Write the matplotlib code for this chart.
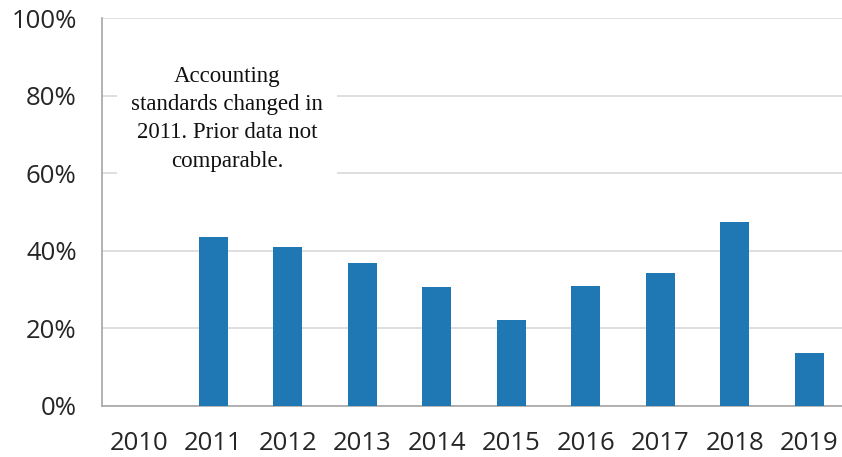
import matplotlib.pyplot as plt
from matplotlib.ticker import FuncFormatter

# data (share, %)
years = ["2010", "2011", "2012", "2013", "2014", "2015", "2016", "2017", "2018", "2019"]
values = [0.0, 43.5, 41.1, 36.8, 30.6, 22.1, 31.0, 34.2, 47.3, 13.6]
y_ticks = [0, 20, 40, 60, 80, 100]
note = "Accounting\nstandards changed in\n2011. Prior data not\ncomparable."

BAR_COLOR = "#1f77b4"
GRID_COLOR = "#d9d9d9"
TEXT_COLOR = "#262626"

fig = plt.figure(figsize=(8.42, 4.57), dpi=100)
ax = fig.add_axes([0.1208, 0.1116, 0.8848, 0.849])

x = list(range(len(years)))
ax.bar(x, values, width=0.39, color=BAR_COLOR, zorder=3)

ax.set_xlim(-0.5, 9.5)
ax.set_ylim(0, 100)
ax.set_xticks(x)
ax.set_xticklabels(years)
ax.set_yticks(y_ticks)
ax.yaxis.set_major_formatter(FuncFormatter(lambda v, _: f"{v:.0f}%"))

ax.grid(axis="y", color=GRID_COLOR, linewidth=1.2, zorder=0)
ax.set_axisbelow(True)
for side in ("top", "right"):
    ax.spines[side].set_visible(False)
for side in ("left", "bottom"):
    ax.spines[side].set_color("#a6a6a6")
    ax.spines[side].set_linewidth(1.2)

ax.tick_params(axis="both", length=0, labelsize=18.5, labelcolor=TEXT_COLOR)
ax.tick_params(axis="x", pad=18)
ax.tick_params(axis="y", pad=18)
for lbl in ax.get_xticklabels() + ax.get_yticklabels():
    lbl.set_fontfamily("Open Sans")

# annotation box covering the gridlines
ax.text(1.18, 74.0, note, ha="center", va="center", fontsize=16.5,
        family="Liberation Serif", color="#111111", linespacing=1.45,
        bbox=dict(boxstyle="square,pad=0.6", fc="white", ec="none"), zorder=4)

fig.savefig("out.png", dpi=100)
